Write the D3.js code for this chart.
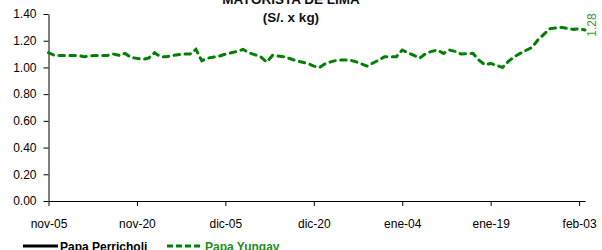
<!DOCTYPE html>
<html lang="es">
<head>
  <meta charset="UTF-8" />
  <title>Mayorista de Lima - Papa</title>
  <script src="https://d3js.org/d3.v7.min.js"></script>
  <style>
    body { margin: 0; background: #fff; }
    svg { display: block; font-family: "Liberation Sans", Arial, sans-serif; }
  </style>
</head>
<body>
  <svg id="chart" width="602" height="250"></svg>
  <script>
    // Datos (precio mayorista, S/. x kg)
    const fechas = [
      "2015-11-05","2015-11-06","2015-11-08","2015-11-10","2015-11-11","2015-11-13","2015-11-15","2015-11-16",
      "2015-11-17","2015-11-18","2015-11-19","2015-11-21","2015-11-22","2015-11-23","2015-11-24","2015-11-25",
      "2015-11-26","2015-11-28","2015-11-29","2015-11-30",
      "2015-12-01","2015-12-02","2015-12-04","2015-12-05","2015-12-07","2015-12-08","2015-12-09","2015-12-11",
      "2015-12-12","2015-12-13","2015-12-15","2015-12-17","2015-12-19","2015-12-20","2015-12-21","2015-12-22",
      "2015-12-24","2015-12-26","2015-12-27","2015-12-29","2015-12-31",
      "2016-01-01","2016-01-03","2016-01-04","2016-01-06","2016-01-07","2016-01-08","2016-01-09","2016-01-10",
      "2016-01-11","2016-01-12","2016-01-13","2016-01-14","2016-01-16","2016-01-17","2016-01-18","2016-01-19",
      "2016-01-21","2016-01-22","2016-01-23","2016-01-24","2016-01-26","2016-01-27","2016-01-29","2016-01-31",
      "2016-02-02","2016-02-03","2016-02-04"
    ];
    const papaYungay = [
      1.11,1.09,1.09,1.09,1.08,1.09,1.09,1.10,1.09,1.105,1.075,1.06,1.07,1.11,1.08,1.08,1.09,1.10,1.10,1.135,
      1.05,1.07,1.085,1.10,1.12,1.135,1.11,1.08,1.04,1.09,1.08,1.05,1.03,1.01,1.00,1.03,1.055,1.055,1.045,1.01,1.055,
      1.08,1.08,1.13,1.09,1.07,1.105,1.12,1.13,1.105,1.13,1.12,1.10,1.105,1.055,1.02,1.03,1.00,1.045,1.08,1.105,
      1.15,1.205,1.29,1.30,1.285,1.29,1.28
    ];
    const papaPerricholi = []; // sin datos visibles en el grafico
    const yTicks = [0, 0.2, 0.4, 0.6, 0.8, 1.0, 1.2, 1.4];
    const xTicks = ["2015-11-05","2015-11-20","2015-12-05","2015-12-20","2016-01-04","2016-01-19","2016-02-03"];
    const meses = ["ene","feb","mar","abr","may","jun","jul","ago","sep","oct","nov","dic"];
    const tituloLineas = ["MAYORISTA DE LIMA", "(S/. x kg)"];
    const series = ["Papa Perricholi", "Papa Yungay"];

    const parse = d3.timeParse("%Y-%m-%d");
    const datos = fechas.map((f, i) => ({ fecha: parse(f), valor: papaYungay[i] }));

    const svg = d3.select("#chart");
    const mLeft = 48.5, mRight = 585, mTop = 14, mBottom = 201;

    const x = d3.scaleTime()
      .domain([parse("2015-11-05"), parse("2016-02-04")])
      .range([mLeft, mRight]);
    const y = d3.scaleLinear().domain([0, 1.4]).range([mBottom, mTop]);

    // Titulo (recortado arriba como en el original)
    svg.selectAll("text.titulo")
      .data(tituloLineas)
      .enter().append("text")
      .attr("class", "titulo")
      .attr("x", 291)
      .attr("y", (d, i) => 4 + i * 18)
      .attr("text-anchor", "middle")
      .attr("font-size", "13.5px")
      .attr("font-weight", "bold")
      .attr("fill", "#111")
      .text(d => d);

    // Ejes
    const yAxis = d3.axisLeft(y)
      .tickValues(yTicks)
      .tickFormat(d3.format(".2f"))
      .tickSize(5)
      .tickSizeOuter(0)
      .tickPadding(7);
    const gy = svg.append("g")
      .attr("transform", `translate(${mLeft},0)`)
      .call(yAxis);

    const xAxis = d3.axisBottom(x)
      .tickValues(xTicks.map(parse))
      .tickFormat(d => meses[d.getMonth()] + "-" + d3.timeFormat("%d")(d))
      .tickSize(5)
      .tickSizeOuter(0)
      .tickPadding(13);
    const gx = svg.append("g")
      .attr("transform", `translate(0,${mBottom})`)
      .call(xAxis);

    [gx, gy].forEach(g => {
      g.selectAll("path, line").attr("stroke", "#000").attr("stroke-width", 1);
      g.selectAll("text").attr("font-size", "12px").attr("fill", "#000")
        .attr("font-family", "'Liberation Sans', Arial, sans-serif");
    });

    // Linea Papa Yungay
    const linea = d3.line().x(d => x(d.fecha)).y(d => y(d.valor));
    svg.append("path")
      .datum(datos)
      .attr("fill", "none")
      .attr("stroke", "#008000")
      .attr("stroke-width", 3)
      .attr("stroke-linecap", "round")
      .attr("stroke-dasharray", "5.5,5.5")
      .attr("d", linea);

    // Etiqueta del ultimo valor
    const ultimo = datos[datos.length - 1];
    svg.append("text")
      .attr("transform", `translate(${x(ultimo.fecha) + 11},${y(ultimo.valor) - 5}) rotate(-90)`)
      .attr("text-anchor", "middle")
      .attr("font-size", "12px")
      .attr("fill", "#3a9a3a")
      .text(d3.format(".2f")(ultimo.valor));

    // Leyenda
    const leyenda = svg.append("g");
    leyenda.append("line")
      .attr("x1", 23).attr("x2", 58).attr("y1", 246).attr("y2", 246)
      .attr("stroke", "#000").attr("stroke-width", 3);
    leyenda.append("text")
      .attr("x", 60).attr("y", 250.5)
      .attr("font-size", "12px").attr("font-weight", "bold").attr("fill", "#000")
      .text(series[0]);
    leyenda.append("line")
      .attr("x1", 167).attr("x2", 203).attr("y1", 246).attr("y2", 246)
      .attr("stroke", "#008000").attr("stroke-width", 3)
      .attr("stroke-dasharray", "6,3");
    leyenda.append("text")
      .attr("x", 205).attr("y", 250.5)
      .attr("font-size", "12px").attr("font-weight", "bold").attr("fill", "#1e8c1e")
      .text(series[1]);
  </script>
</body>
</html>
